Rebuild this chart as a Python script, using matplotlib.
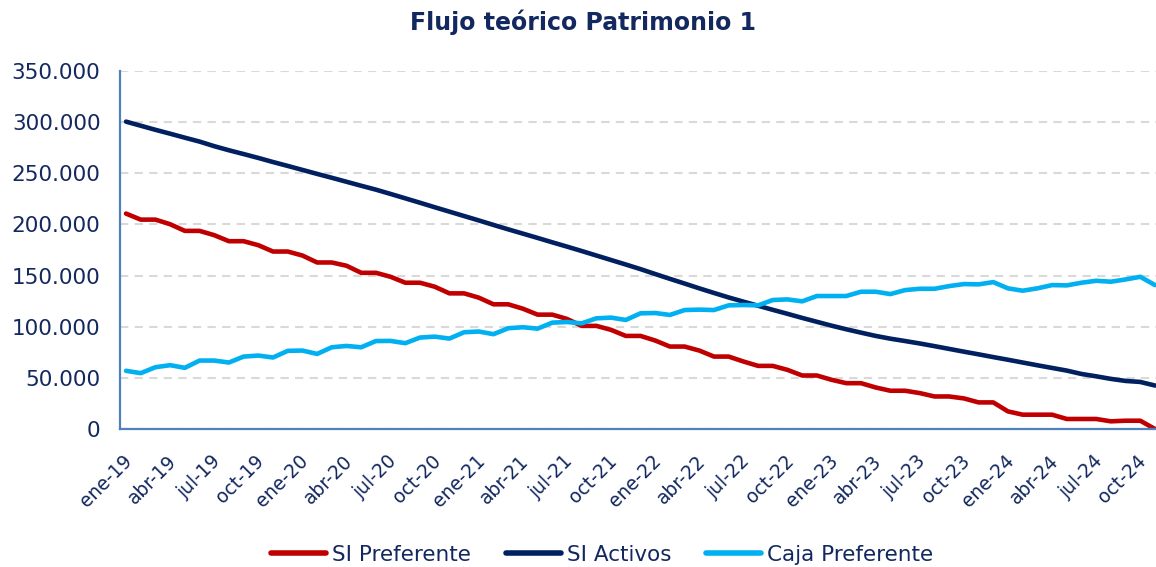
import matplotlib
matplotlib.use("Agg")
import matplotlib.pyplot as plt
from matplotlib.ticker import FixedLocator, FuncFormatter
from matplotlib.transforms import ScaledTranslation

# ---- data (thousands of units, monthly ene-19 .. nov-24) ----
si_preferente = [
    210.6, 204.7, 204.7, 200.2, 193.7, 193.7, 189.5, 183.6, 183.6, 179.7,
    173.5, 173.5, 169.6, 162.8, 162.8, 159.6, 152.7, 152.7, 148.8, 143.0,
    143.0, 139.1, 132.6, 132.6, 128.4, 121.9, 121.9, 117.6, 111.8, 111.8,
    107.6, 100.8, 100.8, 96.9, 91.0, 91.0, 86.5, 80.6, 80.6, 76.7,
    70.8, 70.8, 66.0, 61.7, 61.7, 57.8, 52.3, 52.3, 48.1, 44.8,
    44.8, 40.6, 37.4, 37.4, 35.1, 31.8, 31.8, 29.9, 26.0, 26.0,
    17.2, 14.0, 14.0, 14.0, 9.8, 9.8, 9.8, 7.5, 8.1, 8.1,
    0.0,
]
si_activos = [
    300.5, 296.5, 292.5, 288.7, 284.8, 281.0, 276.5, 272.5, 268.8, 265.0,
    261.0, 257.2, 253.3, 249.4, 245.6, 241.7, 237.8, 234.0, 229.8, 225.5,
    221.2, 216.8, 212.5, 208.2, 203.9, 199.5, 195.2, 191.0, 186.8, 182.5,
    178.3, 174.0, 169.6, 165.2, 160.8, 156.3, 151.5, 146.8, 142.2, 137.5,
    133.0, 128.6, 124.5, 120.5, 116.5, 112.6, 108.6, 104.8, 101.0, 97.5,
    94.2, 91.0, 88.3, 86.0, 83.6, 81.0, 78.3, 75.6, 73.0, 70.3,
    67.7, 65.0, 62.3, 59.7, 57.1, 53.8, 51.5, 49.0, 47.0, 46.0,
    42.5,
]
caja_preferente = [
    56.9, 54.6, 60.4, 62.4, 59.8, 66.9, 66.9, 65.0, 70.8, 71.8,
    69.9, 76.4, 76.7, 73.4, 79.9, 81.2, 79.9, 86.0, 86.1, 83.9,
    89.4, 90.3, 88.4, 94.6, 95.3, 92.7, 98.5, 99.5, 98.1, 104.0,
    104.6, 103.3, 108.2, 108.9, 106.6, 113.1, 113.4, 111.5, 116.3, 116.7,
    116.3, 120.9, 121.2, 120.9, 126.1, 126.7, 124.8, 130.0, 130.0, 130.0,
    134.2, 134.2, 131.9, 135.8, 137.1, 137.1, 139.7, 141.7, 141.4, 143.6,
    137.5, 135.2, 137.5, 140.7, 140.4, 143.0, 144.9, 144.0, 146.2, 148.8,
    140.7,
]
tick_labels = [
    "ene-19", "abr-19", "jul-19", "oct-19", "ene-20", "abr-20", "jul-20", "oct-20",
    "ene-21", "abr-21", "jul-21", "oct-21", "ene-22", "abr-22", "jul-22", "oct-22",
    "ene-23", "abr-23", "jul-23", "oct-23", "ene-24", "abr-24", "jul-24", "oct-24",
]
series_names = ["SI Preferente", "SI Activos", "Caja Preferente"]
y_ticks = [0, 50000, 100000, 150000, 200000, 250000, 300000, 350000]

# ---- style ----
TXT = "#12285E"
COLORS = ["#C00000", "#002060", "#00B0F0"]
plt.rcParams["font.family"] = ["DejaVu Sans"]

fig = plt.figure(figsize=(11.56, 5.67), dpi=100)
ax = fig.add_axes([120 / 1156, 1 - 429 / 567, 1 - 120 / 1156, (429 - 71) / 567])

x = list(range(len(si_preferente)))
for vals, name, col in zip([si_preferente, si_activos, caja_preferente], series_names, COLORS):
    ax.plot(x, [v * 1000 for v in vals], color=col, lw=3.3, label=name,
            solid_joinstyle="round", solid_capstyle="round")

ax.set_xlim(-0.41, 70.07)
ax.set_ylim(0, 350000)

ax.yaxis.set_major_locator(FixedLocator(y_ticks))
ax.yaxis.set_major_formatter(FuncFormatter(lambda v, p: f"{int(v):,}".replace(",", ".")))
ax.set_xticks(list(range(0, 3 * len(tick_labels), 3)))
ax.set_xticklabels(tick_labels, rotation=45, ha="right", va="top", rotation_mode="anchor")

ax.tick_params(axis="y", length=0, pad=14, labelsize=15.5, labelcolor=TXT)
ax.tick_params(axis="x", length=0, pad=16, labelsize=13.5, labelcolor=TXT)
shift = ScaledTranslation(-3.5 / 100, 0, fig.dpi_scale_trans)
for lab in ax.get_xticklabels():
    lab.set_transform(lab.get_transform() + shift)

ax.grid(axis="y", color="#D9D9D9", lw=1.5, ls=(0, (4, 3)))
ax.set_axisbelow(True)
for s in ["top", "right"]:
    ax.spines[s].set_visible(False)
for s in ["left", "bottom"]:
    ax.spines[s].set_color("#4F81BD")
    ax.spines[s].set_linewidth(1.6)

fig.text(0.504, 0.961, "Flujo teórico Patrimonio 1", ha="center", va="center",
         fontsize=17, fontweight="bold", color=TXT)

leg = fig.legend(loc="center", bbox_to_anchor=(0.521, 0.022), ncol=3, frameon=False,
                 fontsize=15.5, handlelength=2.55, handletextpad=0.3, columnspacing=1.6)
for t in leg.get_texts():
    t.set_color(TXT)
for h in leg.get_lines():
    h.set_linewidth(4)

fig.savefig("out.png", dpi=100)
